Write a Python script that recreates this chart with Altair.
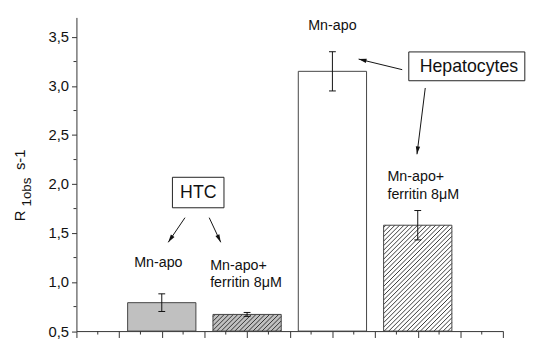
import math
import altair as alt
import pandas as pd

# ---------------- data ----------------
categories = ["HTC Mn-apo", "HTC Mn-apo+ferritin 8μM",
              "Hepatocytes Mn-apo", "Hepatocytes Mn-apo+ferritin 8μM"]
positions = [1, 2, 3, 4]
values = [0.79, 0.67, 3.15, 1.58]
errors = [0.09, 0.02, 0.20, 0.15]
fills = ["#c0c0c0", "#c0c0c0", "#ffffff", "#ffffff"]
hatched = [False, True, False, True]

y_major = [0.5, 1.0, 1.5, 2.0, 2.5, 3.0, 3.5]
y_minor = [0.75, 1.25, 1.75, 2.25, 2.75, 3.25]
x_major = [0, 0.5, 1, 1.5, 2, 2.5, 3, 3.5, 4, 4.5, 5]
x_minor = [0.25, 0.75, 1.25, 1.75, 2.25, 2.75, 3.25, 3.75, 4.25, 4.75]

# annotation texts (data coordinates)
lab_center_text = ["Mn-apo", "Mn-apo"]
lab_center_x = [0.96, 3.0]
lab_center_y = [1.19, 3.61]
lab_left_text = ["Mn-apo+", "ferritin 8μM", "Mn-apo+", "ferritin 8μM"]
lab_left_x = [1.567, 1.567, 3.645, 3.645]
lab_left_y = [1.168, 0.987, 2.072, 1.891]

box_text = ["HTC", "Hepatocytes"]
box_x0 = [1.125, 3.895]
box_x1 = [1.729, 5.255]
box_y0 = [1.758, 3.054]
box_y1 = [2.069, 3.348]
box_tx = [1.428, 4.60]
box_ty = [1.912, 3.19]

arrow_x0 = [1.272, 1.556, 3.818, 4.088]
arrow_y0 = [1.657, 1.657, 3.167, 2.980]
arrow_x1 = [1.076, 1.691, 3.307, 3.991]
arrow_y1 = [1.406, 1.406, 3.275, 2.304]

# ---------------- layout ----------------
W, H = 433.2, 318.5
XDOM = [0, 5]
YDOM = [0.5, 3.7]
SX = W / (XDOM[1] - XDOM[0])
SY = H / (YDOM[1] - YDOM[0])
BAR_W = 0.8
BASE = 0.5
FONT = "Arial, 'Liberation Sans', sans-serif"
AX = "#333333"

xs = alt.Scale(domain=XDOM, nice=False, zero=False)
ys = alt.Scale(domain=YDOM, nice=False, zero=False)
AXX = alt.Axis(values=x_major, labels=False, title=None, tickSize=6.5,
               domainColor=AX, tickColor=AX, grid=False)
AXY = alt.Axis(values=y_major, title=None, tickSize=5,
               labelExpr="replace(format(datum.value, '.1f'), '.', ',')",
               labelFont=FONT, labelFontSize=15, labelColor="#111",
               labelPadding=3, domainColor=AX, tickColor=AX, grid=False)


def X(f):
    return alt.X(f, scale=xs, axis=AXX)


def Y(f):
    return alt.Y(f, scale=ys, axis=AXY)


bars = pd.DataFrame({
    "cat": categories, "pos": positions, "value": values, "err": errors,
    "fill": fills, "hatched": hatched,
})
bars["x0"] = bars["pos"] - BAR_W / 2
bars["x1"] = bars["pos"] + BAR_W / 2
bars["base"] = BASE
bars["lo"] = bars["value"] - bars["err"]
bars["hi"] = bars["value"] + bars["err"]
bars["c0"] = bars["pos"] - 0.04
bars["c1"] = bars["pos"] + 0.04

# hatch lines ("/") inside hatched bars, derived from the bar rectangles
hrows = []
step = 4.6
for _, b in bars[bars["hatched"]].iterrows():
    wpx = BAR_W * SX
    hpx = (b["value"] - BASE) * SY
    s = -hpx + step / 2
    while s < wpx:
        xa = max(0.0, s)
        xb = min(wpx, hpx + s)
        if xb - xa > 0.3:
            hrows.append({
                "hx0": b["x0"] + xa / SX, "hy0": BASE + (xa - s) / SY,
                "hx1": b["x0"] + xb / SX, "hy1": BASE + (xb - s) / SY,
            })
        s += step
hatch = pd.DataFrame(hrows)

base = alt.Chart(bars)

bar_fill = base.mark_rect(strokeWidth=0).encode(
    x=X("x0:Q"), x2="x1", y=Y("value:Q"), y2="base",
    fill=alt.Fill("fill:N", scale=None),
)

hatch_layer = alt.Chart(hatch).mark_rule(color="#222", strokeWidth=0.9).encode(
    x=X("hx0:Q"), x2="hx1", y=Y("hy0:Q"), y2="hy1",
)

bar_outline = base.mark_rect(fillOpacity=0, stroke="#444", strokeWidth=1).encode(
    x=X("x0:Q"), x2="x1", y=Y("value:Q"), y2="base",
)

err_v = base.mark_rule(color="#111", strokeWidth=1).encode(
    x=X("pos:Q"), y=Y("lo:Q"), y2="hi",
)
err_top = base.mark_rule(color="#111", strokeWidth=1).encode(
    x=X("c0:Q"), x2="c1", y=Y("hi:Q"),
)
err_bot = base.mark_rule(color="#111", strokeWidth=1).encode(
    x=X("c0:Q"), x2="c1", y=Y("lo:Q"),
)

ymin = alt.Chart(pd.DataFrame({"v": y_minor})).mark_rule(color=AX).encode(
    y=Y("v:Q"), x=alt.value(-3), x2=alt.value(0))
xmin = alt.Chart(pd.DataFrame({"v": x_minor})).mark_rule(color=AX).encode(
    x=X("v:Q"), y=alt.value(H), y2=alt.value(H + 3.5))

lc = alt.Chart(pd.DataFrame({"t": lab_center_text, "x": lab_center_x, "y": lab_center_y})).mark_text(
    font=FONT, fontSize=14.5, align="center", baseline="middle", color="#111").encode(
    x=X("x:Q"), y=Y("y:Q"), text="t:N")
ll = alt.Chart(pd.DataFrame({"t": lab_left_text, "x": lab_left_x, "y": lab_left_y})).mark_text(
    font=FONT, fontSize=14.5, align="left", baseline="middle", color="#111").encode(
    x=X("x:Q"), y=Y("y:Q"), text="t:N")

boxes_df = pd.DataFrame({"t": box_text, "x0": box_x0, "x1": box_x1, "y0": box_y0,
                         "y1": box_y1, "tx": box_tx, "ty": box_ty})
boxes = alt.Chart(boxes_df).mark_rect(fill="white", stroke="#222", strokeWidth=1).encode(
    x=X("x0:Q"), x2="x1", y=Y("y0:Q"), y2="y1")
box_txt = alt.Chart(boxes_df).mark_text(font=FONT, fontSize=18, align="center",
                                        baseline="middle", color="#111").encode(
    x=X("tx:Q"), y=Y("ty:Q"), text="t:N")

arr = pd.DataFrame({"x0": arrow_x0, "y0": arrow_y0, "x1": arrow_x1, "y1": arrow_y1})
arr["ang"] = [
    (math.degrees(math.atan2((b - a) * SX, (d - c) * SY)) + 360) % 360
    for a, b, c, d in zip(arr["x0"], arr["x1"], arr["y0"], arr["y1"])
]
arrow_lines = alt.Chart(arr).mark_rule(color="#111", strokeWidth=1).encode(
    x=X("x0:Q"), x2="x1", y=Y("y0:Q"), y2="y1")
arrow_heads = alt.Chart(arr).mark_point(
    shape="M0,0L0.55,2L-0.55,2Z", size=64, filled=True, color="#111", opacity=1).encode(
    x=X("x1:Q"), y=Y("y1:Q"), angle=alt.Angle("ang:Q", scale=None))

# y-axis title with subscript, as text pieces
t_r = alt.Chart(pd.DataFrame({"t": ["R"]})).mark_text(
    font=FONT, fontSize=15, angle=270, align="left", baseline="alphabetic", color="#111").encode(
    text="t:N", x=alt.value(-52.5), y=alt.value(207))
t_sub = alt.Chart(pd.DataFrame({"t": ["1obs"]})).mark_text(
    font=FONT, fontSize=13.5, angle=270, align="left", baseline="alphabetic", color="#111").encode(
    text="t:N", x=alt.value(-46.5), y=alt.value(192))
t_s = alt.Chart(pd.DataFrame({"t": ["s-1"]})).mark_text(
    font=FONT, fontSize=15, angle=270, align="left", baseline="alphabetic", color="#111").encode(
    text="t:N", x=alt.value(-52.5), y=alt.value(155))

chart = alt.layer(
    bar_fill, hatch_layer, bar_outline, err_v, err_top, err_bot,
    ymin, xmin, lc, ll, arrow_lines, arrow_heads, boxes, box_txt, t_r, t_sub, t_s,
).properties(
    width=W, height=H,
    autosize=alt.AutoSizeParams(type="none"),
    padding={"left": 69.5, "top": 7, "right": 24.3, "bottom": 8},
    background="white",
).configure_view(stroke=None)

chart.save("out.html", embed_options={"renderer": "svg", "actions": False})
